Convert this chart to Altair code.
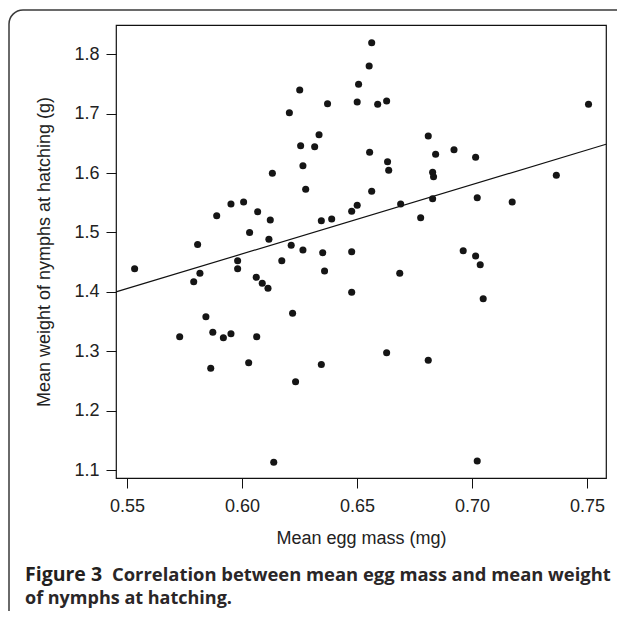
import altair as alt
import pandas as pd

# Mean egg mass (mg) per female
egg_mass = [
    0.6251, 0.6206, 0.6372, 0.6335, 0.6255, 0.6316, 0.6265, 0.6132, 0.6277, 0.5890,
    0.5952, 0.6007, 0.6068, 0.6123, 0.6033, 0.6117, 0.6345, 0.6390, 0.5807, 0.6214,
    0.6265, 0.6564, 0.6553, 0.6507, 0.6501, 0.6590, 0.6629, 0.7507, 0.6810, 0.6555,
    0.6842, 0.6922, 0.7016, 0.6633, 0.6638, 0.6829, 0.6833, 0.7367, 0.6564, 0.6477,
    0.6501, 0.6690, 0.6829, 0.7023, 0.7175, 0.6777, 0.5533, 0.6351, 0.6359, 0.5981,
    0.5981, 0.6173, 0.5817, 0.5790, 0.6062, 0.6088, 0.6113, 0.5843, 0.6220, 0.5729,
    0.5873, 0.5919, 0.5952, 0.6064, 0.5864, 0.6029, 0.6345, 0.6233, 0.6138, 0.6477,
    0.6686, 0.6477, 0.6962, 0.7016, 0.7036, 0.7049, 0.6629, 0.6810, 0.7023,
]
# Mean weight of nymphs at hatching (g)
nymph_weight = [
    1.7399, 1.7017, 1.7168, 1.6646, 1.6461, 1.6444, 1.6125, 1.5997, 1.5727, 1.5283,
    1.5480, 1.5513, 1.5350, 1.5210, 1.5000, 1.4887, 1.5197, 1.5227, 1.4798, 1.4785,
    1.4705, 1.8195, 1.7803, 1.7495, 1.7197, 1.7158, 1.7214, 1.7158, 1.6625, 1.6350,
    1.6316, 1.6394, 1.6266, 1.6192, 1.6047, 1.6013, 1.5939, 1.5963, 1.5694, 1.5357,
    1.5458, 1.5480, 1.5569, 1.5586, 1.5513, 1.5249, 1.4391, 1.4660, 1.4352, 1.4525,
    1.4391, 1.4525, 1.4313, 1.4172, 1.4246, 1.4145, 1.4061, 1.3582, 1.3640, 1.3246,
    1.3320, 1.3229, 1.3296, 1.3246, 1.2714, 1.2808, 1.2778, 1.2488, 1.1131, 1.4677,
    1.4313, 1.3993, 1.4694, 1.4604, 1.4458, 1.3886, 1.2976, 1.2848, 1.1153,
]

# Fitted regression line (end points)
fit_x = [0.5452, 0.7583]
fit_y = [1.4000, 1.6485]

x_ticks = [0.55, 0.60, 0.65, 0.70, 0.75]
y_ticks = [1.1, 1.2, 1.3, 1.4, 1.5, 1.6, 1.7, 1.8]
x_domain = [0.5452, 0.7583]
y_domain = [1.0867, 1.8493]

caption_bold = "Figure 3"
caption_line1 = "Correlation between mean egg mass and mean weight"
caption_line2 = "of nymphs at hatching."

pts = pd.DataFrame({"mass": egg_mass, "weight": nymph_weight})
fit = pd.DataFrame({"mass": fit_x, "weight": fit_y})

FONT = "Liberation Sans"
CAP_FONT = "Open Sans"

xscale = alt.Scale(domain=x_domain, nice=False, zero=False)
yscale = alt.Scale(domain=y_domain, nice=False, zero=False)

xaxis = alt.Axis(values=x_ticks, format=".2f", title="Mean egg mass (mg)",
                 grid=False, domain=False, tickSize=10, tickColor="#111",
                 labelPadding=9, titlePadding=14)
yaxis = alt.Axis(values=y_ticks, format=".1f",
                 title="Mean weight of nymphs at hatching (g)",
                 grid=False, domain=False, tickSize=10, tickColor="#111",
                 labelPadding=7, titlePadding=20)

points = alt.Chart(pts).mark_circle(size=50, color="#151515", opacity=1).encode(
    x=alt.X("mass:Q", scale=xscale, axis=xaxis),
    y=alt.Y("weight:Q", scale=yscale, axis=yaxis),
)

line = alt.Chart(fit).mark_line(color="#111", strokeWidth=1.2).encode(
    x=alt.X("mass:Q", scale=xscale),
    y=alt.Y("weight:Q", scale=yscale),
)

one = pd.DataFrame({"k": [0]})
border = alt.Chart(one).mark_rect(
    fill="white", fillOpacity=0, stroke="#3a3a3a", strokeWidth=1.5, cornerRadius=14
).encode(x=alt.value(-107), x2=alt.value(700), y=alt.value(-15), y2=alt.value(800))

cap_a = alt.Chart(one).mark_text(
    text=caption_bold, font=CAP_FONT, fontSize=19.5, fontWeight="bold",
    align="left", baseline="alphabetic", color="#231f20"
).encode(x=alt.value(-91), y=alt.value(556))
cap_b = alt.Chart(one).mark_text(
    text=caption_line1, font=CAP_FONT, fontSize=18.4, fontWeight="bold",
    align="left", baseline="alphabetic", color="#2a2627"
).encode(x=alt.value(-4), y=alt.value(556))
cap_c = alt.Chart(one).mark_text(
    text=caption_line2, font=CAP_FONT, fontSize=18, fontWeight="bold",
    align="left", baseline="alphabetic", color="#2a2627"
).encode(x=alt.value(-91), y=alt.value(579))

chart = alt.layer(border, line, points, cap_a, cap_b, cap_c).properties(
    width=490, height=453,
    autosize=alt.AutoSizeParams(type="none"),
    padding={"left": 108, "top": 17, "right": 11, "bottom": 133},
).configure_view(
    stroke="#111", strokeWidth=1.2
).configure_axis(
    labelFont=FONT, titleFont=FONT, labelFontSize=18, titleFontSize=18,
    labelColor="#222", titleColor="#222", titleFontWeight="normal",
)

chart.save("out.html", embed_options={"renderer": "svg", "actions": False})
